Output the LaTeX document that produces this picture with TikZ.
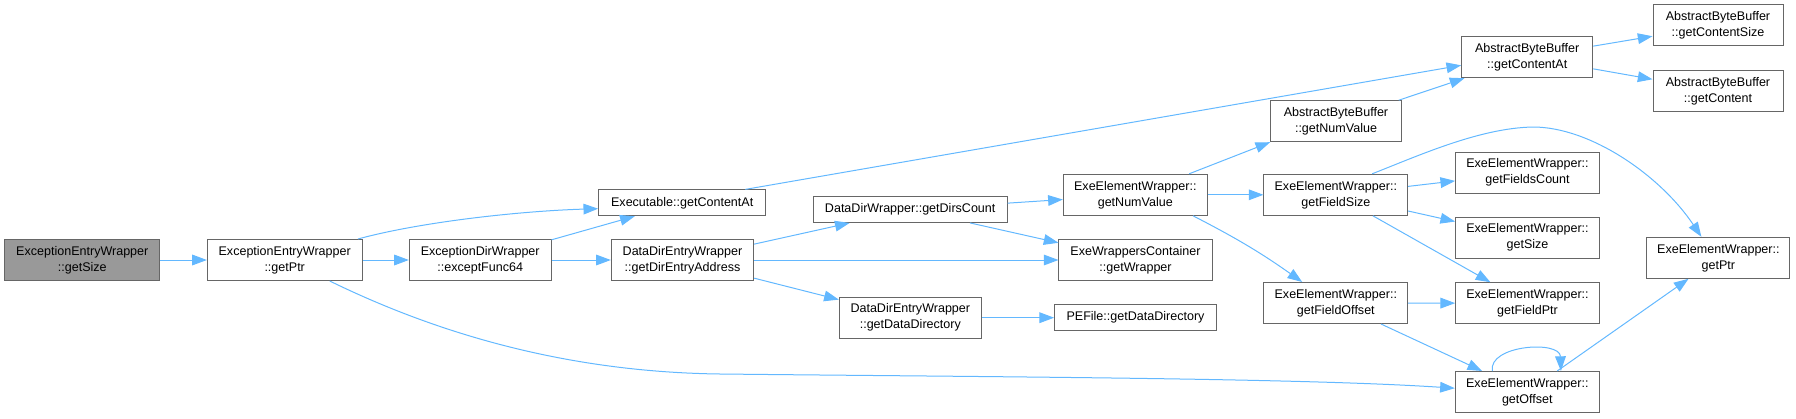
\documentclass[tikz,border=0pt]{standalone}
\usepackage{fontspec}
\setmainfont{Liberation Sans}
\usepackage{tikz}
\usetikzlibrary{arrows.meta}
\definecolor{azulDX}{RGB}{99,184,255}
\definecolor{grisBorde}{RGB}{102,102,102}
\definecolor{grisRaiz}{RGB}{153,153,153}

\begin{document}
\begin{tikzpicture}[
  x = 0.75pt, y = 0.75pt,
  every node/.style = {align=center, font=\fontsize{9.4}{12}\selectfont},
  fn/.style  = {rectangle, draw=grisBorde, fill=white, line width=0.75pt,
                minimum height=30.75pt, inner sep=2pt},
  fnL/.style = {fn, minimum height=19.4pt},
  fnR/.style = {fn, fill=grisRaiz},
  arr/.style = {-{Triangle[length=11pt,width=8pt]}, draw=azulDX, line width=0.75pt},
]
\useasboundingbox (0,0) rectangle (1796,-418);

% ── Nodes ────────────────────────────────────────────────────
\node[fnR, minimum width=116.5pt] (getSizeRoot)    at (82.3,-260)    {ExceptionEntryWrapper\\::getSize};
\node[fn,  minimum width=116pt]   (getPtrA)        at (284.7,-260)   {ExceptionEntryWrapper\\::getPtr};
\node[fn,  minimum width=106.3pt] (exceptFunc)     at (480.2,-260)   {ExceptionDirWrapper\\::exceptFunc64};
\node[fnL, minimum width=125.3pt] (execContentAt)  at (682.2,-202.8) {Executable::getContentAt};
\node[fn,  minimum width=106.8pt] (dirEntryAddr)   at (682.5,-260)   {DataDirEntryWrapper\\::getDirEntryAddress};
\node[fnL, minimum width=145.3pt] (dirsCount)      at (910.2,-209.5) {DataDirWrapper::getDirsCount};
\node[fn,  minimum width=106.5pt] (dataDirectory)  at (910.3,-317.7) {DataDirEntryWrapper\\::getDataDirectory};
\node[fnL, minimum width=121.3pt] (peDataDir)      at (1135.5,-317.7){PEFile::getDataDirectory};
\node[fn,  minimum width=114.8pt] (getWrapper)     at (1135.5,-260)  {ExeWrappersContainer\\::getWrapper};
\node[fn,  minimum width=108pt]   (eewNumValue)    at (1135.3,-194.8){ExeElementWrapper::\\getNumValue};
\node[fn,  minimum width=98pt]    (abbNumValue)    at (1336,-121.2)  {AbstractByteBuffer\\::getNumValue};
\node[fn,  minimum width=107.8pt] (getFieldSize)   at (1335.8,-194.8){ExeElementWrapper::\\getFieldSize};
\node[fn,  minimum width=107.8pt] (getFieldOffset) at (1335.8,-303)  {ExeElementWrapper::\\getFieldOffset};
\node[fn,  minimum width=98.3pt]  (abbContentAt)   at (1527.2,-57.2) {AbstractByteBuffer\\::getContentAt};
\node[fn,  minimum width=107.8pt] (getFieldsCount) at (1527.5,-172.5){ExeElementWrapper::\\getFieldsCount};
\node[fn,  minimum width=107.8pt] (eewGetSize)     at (1527.5,-237.7){ExeElementWrapper::\\getSize};
\node[fn,  minimum width=107.8pt] (getFieldPtr)    at (1527.5,-303.2){ExeElementWrapper::\\getFieldPtr};
\node[fn,  minimum width=108pt]   (getOffset)      at (1527.3,-392)  {ExeElementWrapper::\\getOffset};
\node[fn,  minimum width=97.5pt]  (abbContentSize) at (1718,-25.3)   {AbstractByteBuffer\\::getContentSize};
\node[fn,  minimum width=97.5pt]  (abbContent)     at (1718,-90.8)   {AbstractByteBuffer\\::getContent};
\node[fn,  minimum width=107.3pt] (getPtrB)        at (1718.4,-257.8){ExeElementWrapper::\\getPtr};

% ── Calls, left part ─────────────────────────────────────────
\draw[arr] (getSizeRoot) -- (getPtrA);
\draw[arr] (getPtrA.16) .. controls (420,-222) and (520,-211) .. (execContentAt.184);
\draw[arr] (getPtrA) -- (exceptFunc);
\draw[arr] (getPtrA.-25) .. controls (430,-330) and (560,-372) .. (720,-374)
                         .. controls (1000,-377) and (1300,-378) .. (getOffset.177);
\draw[arr] (exceptFunc) -- (execContentAt);
\draw[arr] (exceptFunc) -- (dirEntryAddr);
\draw[arr] (execContentAt.12) -- (abbContentAt.187);

% ── Calls, middle part ───────────────────────────────────────
\draw[arr] (dirEntryAddr) -- (dirsCount);
\draw[arr] (dirEntryAddr) -- (getWrapper);
\draw[arr] (dirEntryAddr) -- (dataDirectory);
\draw[arr] (dirsCount) -- (eewNumValue);
\draw[arr] (dirsCount) -- (getWrapper);
\draw[arr] (dataDirectory) -- (peDataDir);

% ── Calls, right part ────────────────────────────────────────
\draw[arr] (eewNumValue) -- (abbNumValue.south west);
\draw[arr] (eewNumValue) -- (getFieldSize);
\draw[arr] (eewNumValue.-20) to[bend left=4] (getFieldOffset.148);
\draw[arr] (abbNumValue) -- (abbContentAt);
\draw[arr] (abbContentAt) -- (abbContentSize);
\draw[arr] (abbContentAt) -- (abbContent);
\draw[arr] (getFieldSize) -- (getFieldsCount);
\draw[arr] (getFieldSize) -- (eewGetSize);
\draw[arr] (getFieldSize) -- (getFieldPtr);
\draw[arr] (getFieldSize.30) .. controls (1420,-155) and (1480,-128) .. (1533,-127)
                             .. controls (1590,-127) and (1660,-175) .. (getPtrB.129);
\draw[arr] (getFieldOffset) -- (getFieldPtr);
\draw[arr] (getFieldOffset) -- (getOffset);
\draw[arr] (getOffset.149) .. controls (1488,-345) and (1560,-340) .. (getOffset.32);
\draw[arr] (getOffset) -- (getPtrB);

\end{tikzpicture}
\end{document}
